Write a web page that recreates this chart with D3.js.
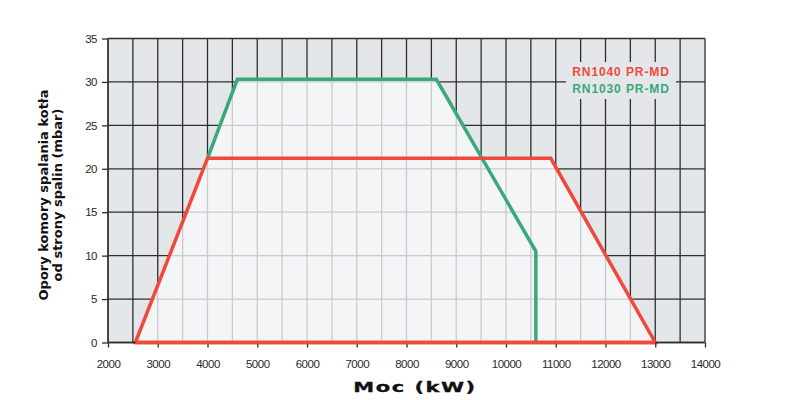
<!DOCTYPE html>
<html><head><meta charset="utf-8">
<script src="https://cdn.jsdelivr.net/npm/d3@7/dist/d3.min.js"></script>
<style>body{margin:0;background:#fff}</style>
</head><body><svg id="c" width="800" height="400"></svg>
<script>
const xTicks = [2000,3000,4000,5000,6000,7000,8000,9000,10000,11000,12000,13000,14000];
const yTicks = [0,5,10,15,20,25,30,35];
const redLabel = "RN1040 PR-MD";
const greenLabel = "RN1030 PR-MD";
// envelopes (kW, mbar)
const redX = [2550, 4000, 10900, 13000];
const redY = [0, 21.2, 21.2, 0];
const greenX = [2550, 4000, 4600, 8600, 10600, 10600];
const greenY = [0, 21.2, 30.3, 30.3, 10.5, 0];
const greenLineStart = 1; // green curve is drawn from its 2nd point (lower part coincides with red)

const svg = d3.select("#c");
const x = d3.scaleLinear().domain([2000,14000]).range([108,705]);
const y = d3.scaleLinear().domain([0,35]).range([342.5,38.5]);
const bg = "#e4e7ea", light = "#f3f5f7", dark = "#2e2e2e", lightGrid = "#c9cbcd";
const red = "#f0493a", green = "#3aa878";

const redPts = redX.map((v,i)=>[x(v), y(redY[i])]);
const greenPts = greenX.map((v,i)=>[x(v), y(greenY[i])]);
const line = d3.line();

svg.append("rect").attr("x",x(2000)).attr("y",y(35)).attr("width",x(14000)-x(2000)).attr("height",y(0)-y(35)).attr("fill",bg);

const minorX = d3.range(2000,14001,500), minorY = yTicks;
function grid(g, color, w){
  g.selectAll("line.v").data(minorX).join("line").attr("class","v")
    .attr("x1",d=>x(d)).attr("x2",d=>x(d)).attr("y1",y(35)).attr("y2",y(0))
    .attr("stroke",color).attr("stroke-width",w);
  g.selectAll("line.h").data(minorY).join("line").attr("class","h")
    .attr("x1",x(2000)).attr("x2",x(14000)).attr("y1",d=>y(d)).attr("y2",d=>y(d))
    .attr("stroke",color).attr("stroke-width",w);
}
grid(svg.append("g"), dark, 1.3);

const defs = svg.append("defs");
const cp = defs.append("clipPath").attr("id","env");
cp.append("path").attr("d", line(redPts)+"Z");
cp.append("path").attr("d", line(greenPts)+"Z");

const envG = svg.append("g").attr("clip-path","url(#env)");
envG.append("rect").attr("x",x(2000)).attr("y",y(35)).attr("width",x(14000)-x(2000)).attr("height",y(0)-y(35)).attr("fill",light);
grid(envG.append("g"), lightGrid, 1.3);

// legend backdrop
const lg = svg.append("g");
lg.append("rect").attr("x",566).attr("y",62).attr("width",110).attr("height",37).attr("fill",bg);
lg.append("text").attr("x",621).attr("y",76).attr("text-anchor","middle").attr("fill",red)
  .attr("font-family","Liberation Sans, Arial, sans-serif").attr("font-weight","bold").attr("font-size",12).attr("letter-spacing","0.9").text(redLabel);
lg.append("text").attr("x",621).attr("y",93).attr("text-anchor","middle").attr("fill",green)
  .attr("font-family","Liberation Sans, Arial, sans-serif").attr("font-weight","bold").attr("font-size",12).attr("letter-spacing","0.9").text(greenLabel);

// lines
svg.append("path").attr("d", line(greenPts.slice(greenLineStart))).attr("fill","none").attr("stroke",green).attr("stroke-width",3.5).attr("stroke-linejoin","miter");
svg.append("path").attr("d", line(redPts)+"Z").attr("fill","none").attr("stroke",red).attr("stroke-width",3.5).attr("stroke-linejoin","miter");

// axes
const ax = svg.append("g").attr("transform",`translate(0,${y(0)})`)
  .call(d3.axisBottom(x).tickValues(xTicks).tickSize(5).tickFormat(d3.format("d")));
const ay = svg.append("g").attr("transform",`translate(${x(2000)},0)`)
  .call(d3.axisLeft(y).tickValues(yTicks).tickSize(6).tickPadding(5).tickFormat(d3.format("d")));
[ax,ay].forEach(a=>{
  a.select(".domain").remove();
  a.selectAll("line").attr("stroke",dark).attr("stroke-width",1.3);
  a.selectAll("text").attr("font-family","Liberation Sans, Arial, sans-serif").attr("font-size",11.5).attr("fill","#2a2a2a").attr("letter-spacing","-0.5");
});
ax.selectAll("text").attr("dy","1.55em");
svg.append("line").attr("x1",x(2000)).attr("x2",x(14000)).attr("y1",y(0)).attr("y2",y(0)).attr("stroke",dark).attr("stroke-width",1.3);
svg.append("line").attr("x1",x(2000)).attr("x2",x(2000)).attr("y1",y(0)).attr("y2",y(35)).attr("stroke",dark).attr("stroke-width",1.3);
// redraw red baseline on top
svg.append("line").attr("x1",x(redX[0])).attr("x2",x(redX[3])).attr("y1",y(0)).attr("y2",y(0)).attr("stroke",red).attr("stroke-width",3.5);

// titles
svg.append("text").attr("transform","translate(415,392) scale(1.5,1)").attr("text-anchor","middle")
  .attr("font-family","DejaVu Sans, Verdana, sans-serif").attr("font-weight","bold").attr("font-size",14).attr("letter-spacing","1").attr("fill","#111")
  .attr("stroke","#111").attr("stroke-width",0.3).text("Moc (kW)");
const yt = svg.append("text").attr("transform","translate(48,195) rotate(-90)").attr("text-anchor","middle")
  .attr("font-family","DejaVu Sans, Verdana, sans-serif").attr("font-weight","bold").attr("font-size",13).attr("fill","#111");
yt.append("tspan").attr("x",0).attr("y",0).text("Opory komory spalania kotła");
yt.append("tspan").attr("x",0).attr("y",14).text("od strony spalin (mbar)");
</script></body></html>
